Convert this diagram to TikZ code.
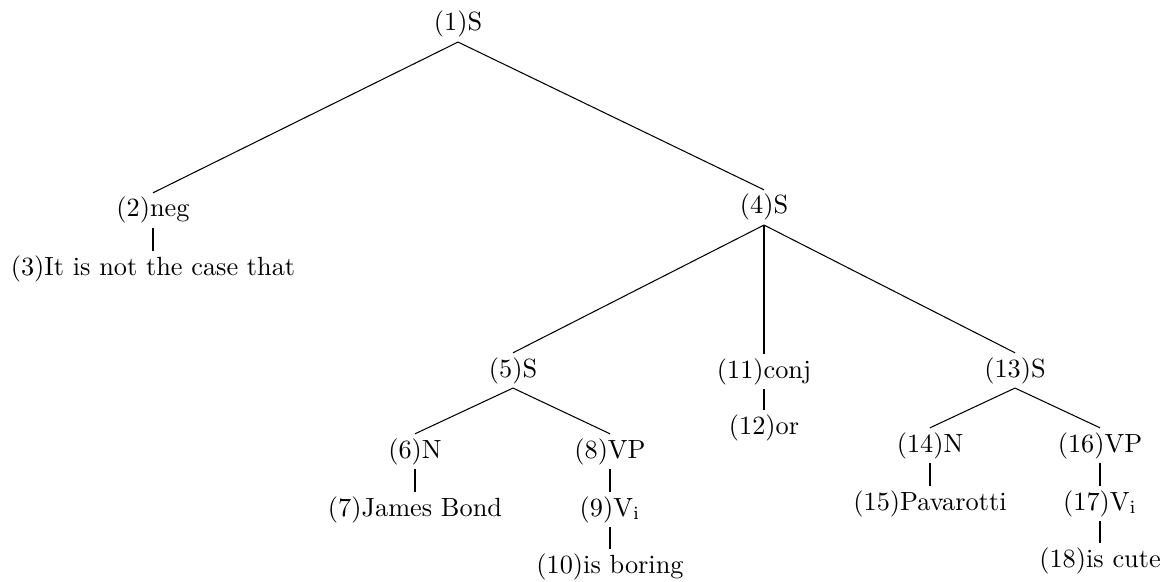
\documentclass[tikz,border=0pt]{standalone}
\begin{document}
\begin{tikzpicture}[x=0.3802pt, y=-0.3802pt,
  tn/.style={anchor=base, inner sep=1.5pt, text height=7.5pt, text depth=2.5pt},
  br/.style={line width=0.4pt}]
\useasboundingbox (0,0) rectangle (1173,582);
% nodes, placed by baseline
\node[tn] (n1)  at (458,31)   {(1)S};
\node[tn] (n2)  at (153,217)  {(2)neg};
\node[tn] (n3)  at (153,275)  {(3)It is not the case that};
\node[tn] (n4)  at (764,214)  {(4)S};
\node[tn] (n5)  at (513,377)  {(5)S};
\node[tn] (n11) at (764,378)  {(11)conj};
\node[tn] (n12) at (764,434)  {(12)or};
\node[tn] (n13) at (1015,377) {(13)S};
\node[tn] (n6)  at (415,458)  {(6)N};
\node[tn] (n7)  at (415,516)  {(7)James Bond};
\node[tn] (n8)  at (610,458)  {(8)VP};
\node[tn] (n9)  at (610,516)  {(9)V$_\mathrm{i}$};
\node[tn] (n10) at (610,573)  {(10)is boring};
\node[tn] (n14) at (930,452)  {(14)N};
\node[tn] (n15) at (930,510)  {(15)Pavarotti};
\node[tn] (n16) at (1100,452) {(16)VP};
\node[tn] (n17) at (1100,510) {(17)V$_\mathrm{i}$};
\node[tn] (n18) at (1100,567) {(18)is cute};
% branches
\draw[br] (n1.south) -- (n2.north);
\draw[br] (n1.south) -- (n4.north);
\draw[br] (n2.south) -- (n3.north);
\draw[br] (n4.south) -- (n5.north);
\draw[br] (n4.south) -- (n11.north);
\draw[br] (n4.south) -- (n13.north);
\draw[br] (n11.south) -- (n12.north);
\draw[br] (n5.south) -- (n6.north);
\draw[br] (n5.south) -- (n8.north);
\draw[br] (n6.south) -- (n7.north);
\draw[br] (n8.south) -- (n9.north);
\draw[br] (n9.south) -- (n10.north);
\draw[br] (n13.south) -- (n14.north);
\draw[br] (n13.south) -- (n16.north);
\draw[br] (n14.south) -- (n15.north);
\draw[br] (n16.south) -- (n17.north);
\draw[br] (n17.south) -- (n18.north);
\end{tikzpicture}
\end{document}
